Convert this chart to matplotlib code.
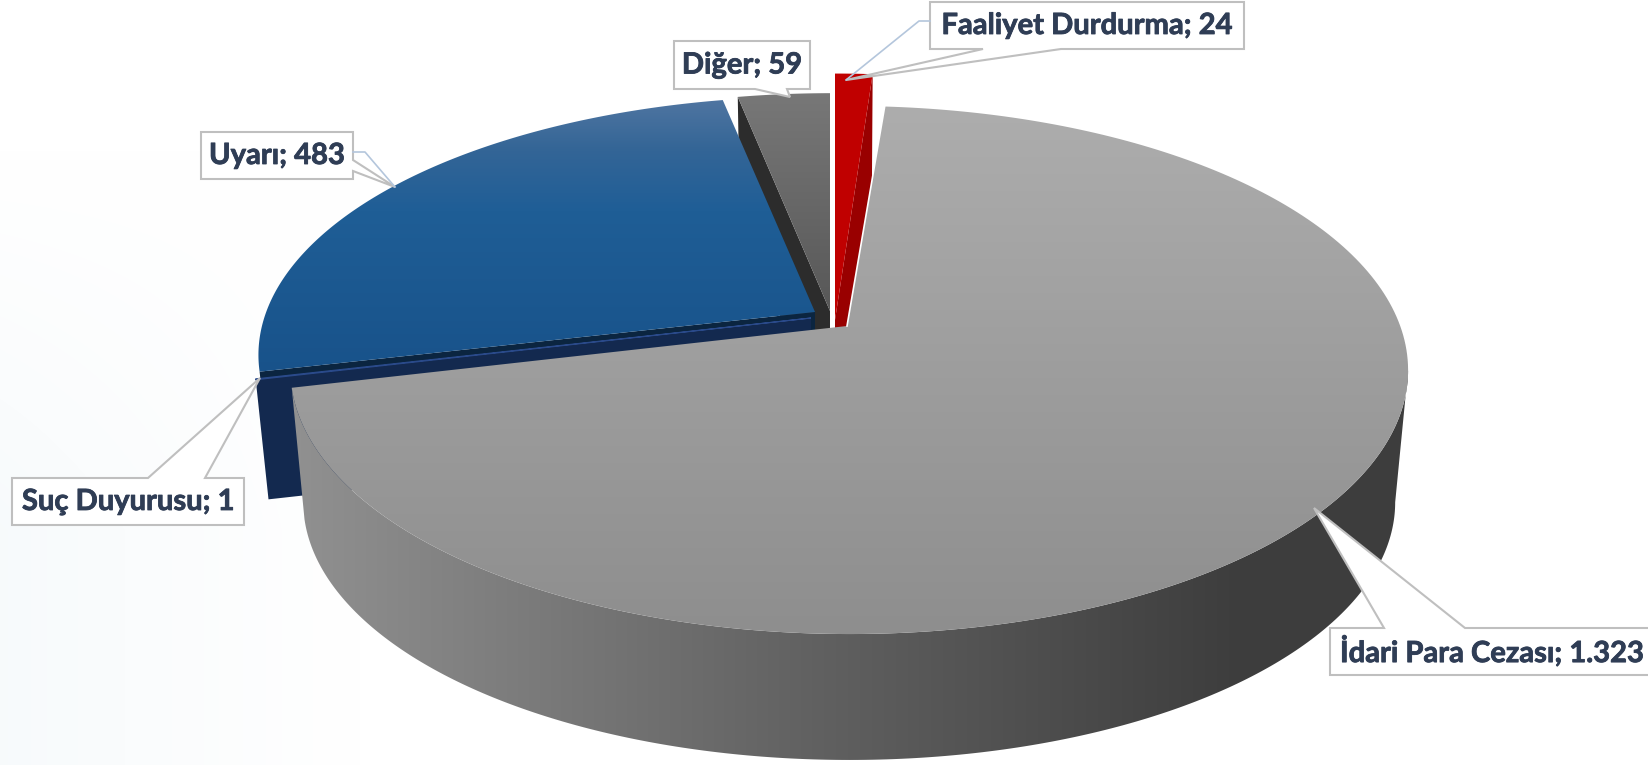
#!/usr/bin/env python3
"""Exploded 3D-look pie: projected by hand, matplotlib has no real 3D pie."""
import numpy as np
import matplotlib
matplotlib.use("Agg")
import matplotlib.pyplot as plt
import matplotlib.patheffects as pe
from matplotlib.colors import to_rgb
from matplotlib.patches import Polygon

W, H = 1648, 765

# ---- data, clockwise from 12 o'clock ---------------------------------------
categories = ["Faaliyet Durdurma", "İdari Para Cezası", "Suç Duyurusu", "Uyarı", "Diğer"]
values = [24, 1323, 1, 483, 59]
value_labels = ["24", "1.323", "1", "483", "59"]

# ---- pie projection (pixels) -----------------------------------------------
A, B, K = 551.0, 256.7, 1 / 6   # half width, half depth, perspective
M = 0.004                       # slight sideways perspective
SHRINK = 0.977                  # lower rim is a bit further away
# name: tip x, tip y, back stretch, extrusion
PLACE = {
    "Faaliyet Durdurma": (835, 320, 1.12, 121),
    "İdari Para Cezası": (847, 326, 1.0, 133),
    "Suç Duyurusu": (811, 318, 1.0, 121),
    "Uyarı": (815, 312, 0.98, 121),
    "Diğer": (830, 311, 0.99, 121),
}

spans = np.array(values) / sum(values) * 360.0
ends = np.cumsum(spans)
starts = ends - spans
ANGLES = dict(zip(categories, zip(starts, ends)))

plt.rcParams["font.family"] = ["Lato", "DejaVu Sans"]
fig = plt.figure(figsize=(W / 100, H / 100), dpi=100)
ax = fig.add_axes([0, 0, 1, 1])
ax.axis("off")

z = [1]


def rim(name, t1, t2, n=240):
    cx, cy, st, _ = PLACE[name]
    t = np.radians(np.linspace(t1, t2, n))
    u, v = np.sin(t), -np.cos(t)
    d = 1 - K * v - M * u
    return cx + A * u / d, cy + st * B * v / d


def lower(name, x, y):
    cx, cy, _, dy = PLACE[name]
    return cx + SHRINK * (np.asarray(x) - cx), cy + dy + SHRINK * (np.asarray(y) - cy)


def gradient(xs, ys, stops, axis="y"):
    """Fill a polygon with a linear gradient along x or y (pixel stops)."""
    z[0] += 1
    pos = [s[0] for s in stops]
    rgb = np.array([to_rgb(s[1]) for s in stops])
    n = W if axis == "x" else H
    line = np.stack([np.interp(np.arange(n), pos, rgb[:, i]) for i in range(3)], axis=1)
    img = line[None, :, :] if axis == "x" else line[:, None, :]
    im = ax.imshow(img, extent=(0, W, H, 0), aspect="auto", zorder=z[0])
    poly = Polygon(np.c_[xs, ys], closed=True, fc="none", ec="none", transform=ax.transData)
    ax.add_patch(poly)
    im.set_clip_path(poly)


def flat(xs, ys, color, ec="none", lw=0):
    z[0] += 1
    ax.add_patch(Polygon(np.c_[xs, ys], closed=True, fc=color, ec=ec, lw=lw, zorder=z[0]))


def top_face(name):
    t1, t2 = ANGLES[name]
    x, y = rim(name, t1, t2)
    cx, cy = PLACE[name][:2]
    return np.r_[cx, x], np.r_[cy, y]


def wall(name, theta, color):
    """Flat cut face running from the tip out to the rim at theta."""
    cx, cy = PLACE[name][:2]
    x, y = rim(name, theta, theta, 1)
    tx = np.r_[cx, x]
    ty = np.r_[cy, y]
    bx, by = lower(name, tx, ty)
    flat(np.r_[tx, bx[::-1]], np.r_[ty, by[::-1]], color)


# faint background wash on the left
bg = np.ones((H, W, 3))
yy, xx = np.mgrid[0:H, 0:W]
fade = np.clip(1 - xx / 360, 0, 1) * np.clip((yy - 150) / 380, 0, 1)
bg -= fade[..., None] * np.array([0.03, 0.018, 0.012])
ax.imshow(bg, extent=(0, W, H, 0), aspect="auto", zorder=0)

# back slices first, gray one last so it covers the other tips
wall("Diğer", ANGLES["Diğer"][0], "#2c2c2c")
x, y = top_face("Diğer")
gradient(x, y, [(90, "#787878"), (320, "#565656")])

wall("Faaliyet Durdurma", ANGLES["Faaliyet Durdurma"][1], "#990000")
x, y = top_face("Faaliyet Durdurma")
flat(x, y, "#c00000")

wall("Uyarı", ANGLES["Uyarı"][0], "#0b2540")
x, y = top_face("Uyarı")
gradient(x, y, [(100, "#4f75a1"), (150, "#336596"), (210, "#1f5e96"), (375, "#18528a")])

wall("Suç Duyurusu", ANGLES["Suç Duyurusu"][0], "#13294f")
x, y = top_face("Suç Duyurusu")
flat(x, y, "#2a4a8a", ec="#2a4a8a", lw=0.8)

# big slice: outer side then top face
name = "İdari Para Cezası"
t1, t2 = ANGLES[name]
sx, sy = rim(name, 99.6, t2)
bx, by = lower(name, sx, sy)
gradient(np.r_[sx, bx[::-1]], np.r_[sy, by[::-1]],
         [(300, "#909090"), (800, "#626262"), (1240, "#3d3d3d")], axis="x")
x, y = top_face(name)
gradient(x, y, [(105, "#adadad"), (633, "#8e8e8e")])
ax.plot(x[:2], y[:2], color="white", lw=1.2, zorder=z[0] + 1)
z[0] += 1

# ---- callouts: outline vertices with the pointer notch ---------------------
EDGE = "#bfbfbf"
LEADER = "#b4c6dc"
# category: box (x0, y0, x1, y1), pointer vertices, side the pointer leaves from
BOXES = {
    "Faaliyet Durdurma": ((930, 2, 1244, 49), [(1061, 49), (846, 80), (983, 49)], "bottom"),
    "İdari Para Cezası": ((1330, 628, 1652, 675), [(1384, 628), (1314, 508), (1465, 628)], "top"),
    "Suç Duyurusu": ((12, 478, 244, 525), [(148, 478), (260, 378), (205, 478)], "top"),
    "Uyarı": ((201, 132, 353, 179), [(353, 160), (395, 187), (353, 171)], "right"),
    "Diğer": ((674, 41, 810, 89), [(787, 89), (790, 97), (755, 89)], "bottom"),
}
LEADERS = {
    "Faaliyet Durdurma": [(930, 21), (919, 21), (846, 80)],
    "Uyarı": [(353, 152), (365, 152), (395, 187)],
}

z[0] += 1
for cat, lab in zip(categories, value_labels):
    (x0, y0, x1, y1), notch, side = BOXES[cat]
    if side == "top":
        pts = [(x0, y0)] + notch + [(x1, y0), (x1, y1), (x0, y1)]
    elif side == "bottom":
        pts = [(x0, y0), (x1, y0), (x1, y1)] + notch + [(x0, y1)]
    else:
        pts = [(x0, y0), (x1, y0)] + notch + [(x1, y1), (x0, y1)]
    ax.add_patch(Polygon(pts, closed=True, fc="white", ec=EDGE, lw=1.5, zorder=z[0],
                         joinstyle="miter"))
    if cat in LEADERS:
        lx, ly = zip(*LEADERS[cat])
        ax.plot(lx, ly, color=LEADER, lw=1.2, zorder=z[0])
    tx = x0 + 10 if cat == "İdari Para Cezası" else (x0 + x1) / 2
    ha = "left" if cat == "İdari Para Cezası" else "center"
    t = ax.text(tx, (y0 + y1) / 2 + 0.5, f"{cat}; {lab}", ha=ha, va="center", fontsize=21,
                fontweight="bold", color="#2f3d55", zorder=z[0] + 1)
    # Lato bold comes out lighter than the original face
    t.set_path_effects([pe.withStroke(linewidth=0.6, foreground="#2f3d55")])

ax.set_xlim(0, W)
ax.set_ylim(H, 0)
fig.savefig("out.png", dpi=100)
